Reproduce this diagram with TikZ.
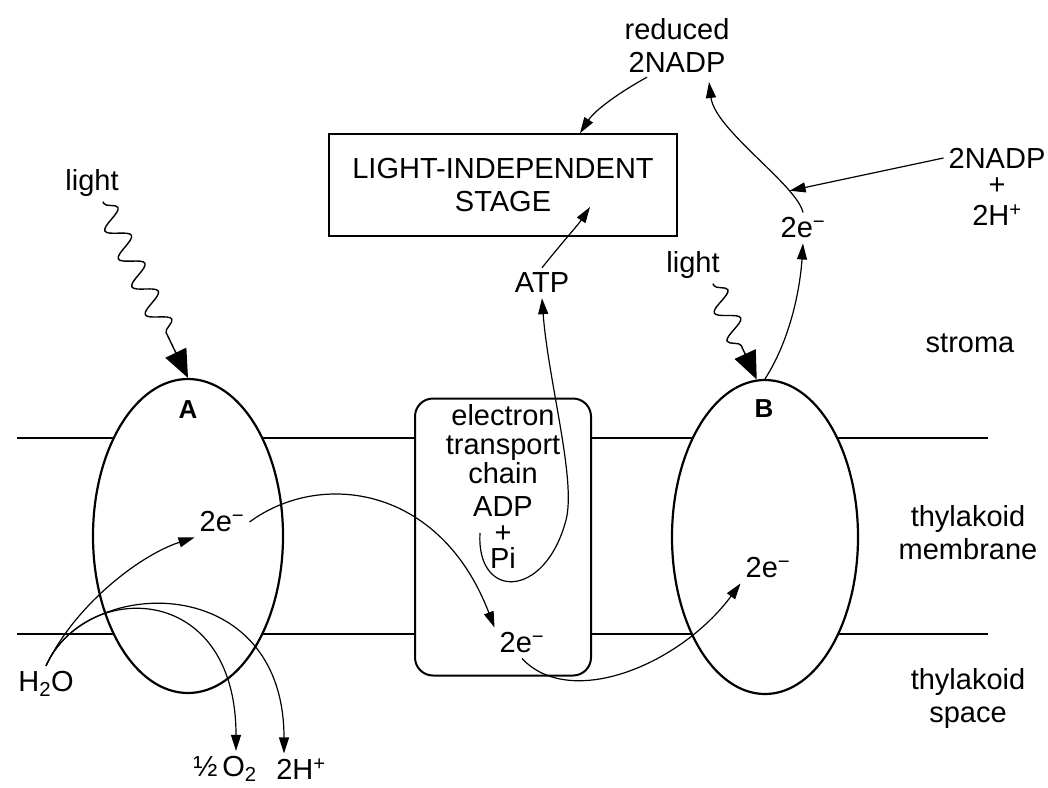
\documentclass[tikz,border=0pt]{standalone}
\usepackage{fontspec}
\setmainfont{Liberation Sans}
\usetikzlibrary{positioning}
\usetikzlibrary{arrows.meta}
\usetikzlibrary{shapes.geometric}
\usetikzlibrary{decorations.pathmorphing}
\tikzset{
        labelnode/.style={align=center,inner sep=5pt,font=\fontsize{29}{33}\selectfont},
        % Photosystems
        node_ps/.style={ellipse, draw=black, line width=2.2pt, fill=white, minimum width=190pt, minimum height=314pt, inner sep=0pt},
        % Photosystem letters
        node_letter/.style={labelnode, font=\fontsize{26}{30}\selectfont\bfseries},
        % Electron transport chain
        node_etc/.style={rectangle, rounded corners=18pt, draw=black, line width=2pt, fill=white, minimum width=176pt, minimum height=277pt},
        % Light-independent stage
        node_stage/.style={labelnode, rectangle, draw=black, line width=1.6pt, minimum width=348pt, minimum height=102pt},
        % Membrane edges
        membrane/.style={line width=1.8pt},
        % Thin arrows
        arrow_thin/.style={line width=1.2pt, -{Triangle[length=16pt,width=10pt]}},
        % Light
        arrow_light/.style={line width=1.4pt, -{Triangle[length=28pt,width=23pt]}, decorate,
                decoration={snake, amplitude=11pt, segment length=31pt, pre length=2pt, post length=36pt}}
}
\begin{document}
\begin{tikzpicture}[x=1pt, y=-1pt]
    \useasboundingbox (0,0) rectangle (1048,787);
    % membrane
    \draw[membrane] (17,438) -- (988,438);
    \draw[membrane] (17,634) -- (988,634);
    % photosystems and chain
    \node[node_ps] (psA) at (188,536) {};
    \node[node_ps, minimum width=186pt] (psB) at (765,537) {};
    \node[node_etc] (etc) at (503,537) {};
    \node[node_stage] (stage) at (503,185) {LIGHT-INDEPENDENT\\STAGE};
    \node[node_letter] (labA) at (188,410) {A};
    \node[node_letter] (labB) at (764,409) {B};
    % labels
    \node[labelnode] (lightA) at (92,183) {light};
    \node[labelnode] (lightB) at (693,265) {light};
    \node[labelnode] (h2o) at (46,684) {H\textsubscript{2}O};
    \node[labelnode] (half_o2) at (225,769) {½\,O\textsubscript{2}};
    \node[labelnode] (two_h) at (301,769) {2H\textsuperscript{+}};
    \node[labelnode] (e_a) at (222,522) {2e\textsuperscript{−}};
    \node[labelnode] (e_etc) at (522,643) {2e\textsuperscript{−}};
    \node[labelnode] (e_b) at (768,568) {2e\textsuperscript{−}};
    \node[labelnode] (e_top) at (803,228) {2e\textsuperscript{−}};
    \node[labelnode] (atp) at (542,283) {ATP};
    \node[labelnode] (nadp_red) at (677,45) {reduced\\2NADP};
    \node[labelnode] (nadp_in) at (997,158) {2NADP};
    \node[labelnode, font=\fontsize{29}{31}\selectfont, below=-1pt of nadp_in] (nadp_h) {+\\2H\textsuperscript{+}};
    \node[labelnode] (stroma) at (970,343) {stroma};
    \node[labelnode] (t_mem) at (968,533) {thylakoid\\membrane};
    \node[labelnode] (t_space) at (968,698) {thylakoid\\space};
    \node[labelnode, font=\fontsize{29}{29}\selectfont] (etc_text) at (503,444) {electron\\transport\\chain};
    \node[labelnode, font=\fontsize{29}{26}\selectfont] (adp) at (503,533) {ADP\\+\\Pi};
    % light
    \draw[arrow_light] ([xshift=11pt]lightA.south) -- (psA.north);
    \draw[arrow_light] ([xshift=20pt]lightB.south) -- (psB.93);
    % water splitting
    \draw[arrow_thin] (h2o.north) .. controls (75,605) and (140,555) .. (e_a.south west);
    \draw[arrow_thin] (h2o.north) .. controls (85,580) and (236,580) .. ([xshift=11pt]half_o2.north);
    \draw[arrow_thin] (h2o.north) .. controls (85,575) and (284,570) .. ([xshift=-17pt]two_h.north);
    % electrons through the chain
    \draw[arrow_thin] (e_a.east) .. controls (320,470) and (440,485) .. (e_etc.north west);
    \draw[arrow_thin] (e_etc.south) .. controls (570,710) and (680,665) .. (e_b.south west);
    % ATP
    \coordinate (pi_start) at (480,533);
    \draw[arrow_thin] (pi_start) .. controls (476,600) and (545,600) .. (566,520)
        .. controls (576.5,480) and (548,380) .. (atp.south);
    \coordinate (stage_in) at (590,207);
    \draw[arrow_thin] (atp.north) .. controls (560,245) and (578,225) .. (stage_in);
    % NADP
    \draw[arrow_thin] (psB.north) .. controls (790,340) and (800,290) .. (e_top.south);
    \coordinate (nadp_tip) at (709,82);
    \draw[arrow_thin] (e_top.north) .. controls (797,185) and (715,130) .. coordinate[pos=0.22] (merge) (nadp_tip);
    \draw[arrow_thin] (nadp_in.west) -- (merge);
    \draw[arrow_thin] ([xshift=-30pt]nadp_red.south) .. controls (620,92) and (595,110) .. ([xshift=77pt]stage.north);
\end{tikzpicture}
\end{document}
